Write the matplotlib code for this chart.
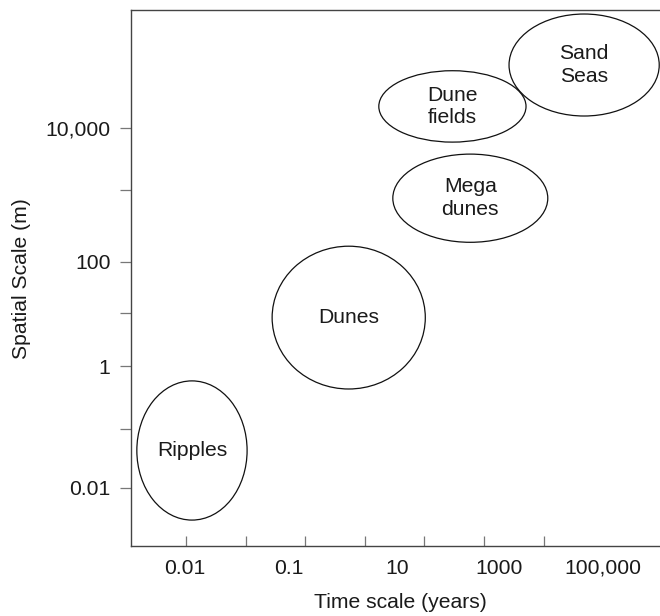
import matplotlib
matplotlib.use("Agg")
import matplotlib.pyplot as plt
from matplotlib.patches import Ellipse

plt.rcParams['font.family'] = ['Liberation Sans', 'DejaVu Sans']

# ---- data (axis units are log10 of the quantity) ----
features = ["Ripples", "Dunes", "Mega\ndunes", "Dune\nfields", "Sand\nSeas"]
log_time_center = [-1.90, 0.73, 2.77, 2.47, 4.68]     # log10(years)
log_space_center = [-1.375, 0.84, 2.83, 4.36, 5.05]   # log10(m)
log_time_span = [1.85, 2.57, 2.60, 2.47, 2.52]        # decades
log_space_span = [2.32, 2.38, 1.47, 1.19, 1.70]       # decades

x_minor_ticks = [-2, -1, 0, 1, 2, 3, 4, 5]
x_label_pos = [-2.02, -0.27, 1.54, 3.25, 5.0]
x_labels = ["0.01", "0.1", "10", "1000", "100,000"]

y_minor_ticks = [2.967, 0.917, -1.017]
y_label_pos = [4.0, 1.767, 0.033, -2.0]
y_labels = ["10,000", "100", "1", "0.01"]

FS = 15.2
TXT = "#1a1a1a"

fig = plt.figure(figsize=(6.6, 6.16), dpi=100)
ax = fig.add_axes([131 / 660, 1 - 546 / 616, 529 / 660, 536 / 616])
ax.set_xlim(-2.923, 5.953)
ax.set_ylim(-2.967, 5.967)

for name, cx, cy, w, h in zip(features, log_time_center, log_space_center,
                              log_time_span, log_space_span):
    ax.add_patch(Ellipse((cx, cy), w, h, facecolor="none", edgecolor="#111111",
                         lw=0.9, clip_on=False))
    ax.text(cx, cy, name, ha="center", va="center", fontsize=FS, color=TXT,
            linespacing=1.25)

# spines
for s in ["left", "top", "bottom"]:
    ax.spines[s].set_color("#444444")
    ax.spines[s].set_linewidth(1.0)
ax.spines["right"].set_visible(False)

# x axis: inward tick marks at decades, labels placed separately
ax.set_xticks(x_minor_ticks, minor=True)
ax.set_xticks(x_label_pos, x_labels)
ax.tick_params(axis="x", which="minor", direction="in", length=7.2,
               width=0.9, color="#777777")
ax.tick_params(axis="x", which="major", length=0, pad=9,
               labelsize=FS, labelcolor=TXT)

# y axis: outward ticks
ax.set_yticks(y_minor_ticks, minor=True)
ax.set_yticks(y_label_pos, y_labels)
ax.tick_params(axis="y", which="both", direction="out", length=8.2,
               width=0.9, color="#777777")
ax.tick_params(axis="y", which="major", pad=6.5, labelsize=FS, labelcolor=TXT)

ax.set_xlabel("Time scale (years)", fontsize=FS, color=TXT, va="center")
ax.xaxis.set_label_coords((400 - 131) / 529, (546 - 603) / 536)
ax.set_ylabel("Spatial Scale (m)", fontsize=FS, color=TXT, va="center")
ax.yaxis.set_label_coords((22 - 131) / 529, (546 - 279) / 536)

fig.savefig("out.png", dpi=100)
